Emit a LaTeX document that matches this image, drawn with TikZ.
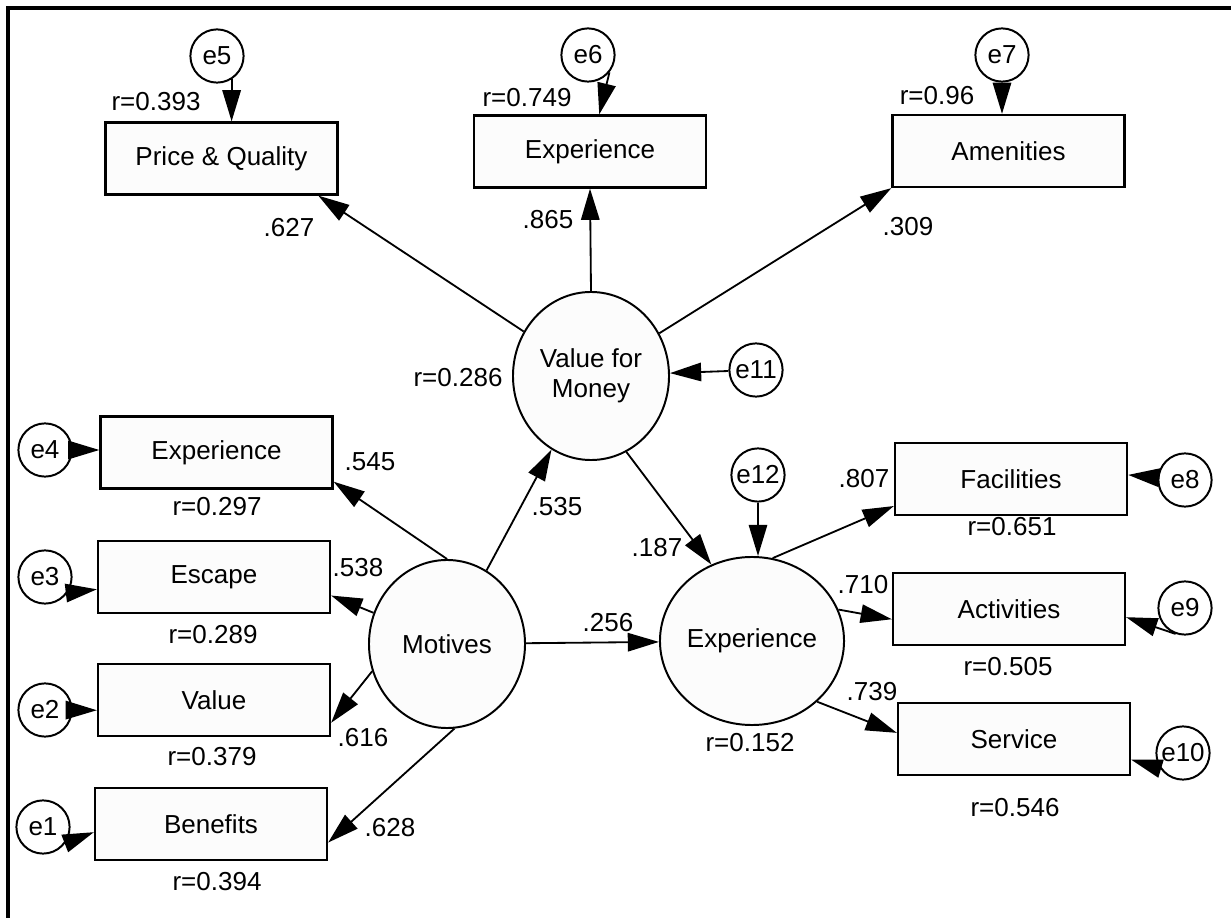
\documentclass[tikz,border=0pt]{standalone}
\usepackage{fontspec}
\setmainfont{Liberation Sans}
\usetikzlibrary{arrows.meta,shapes.geometric}

\begin{document}
\begin{tikzpicture}[x=0.025cm, y=-0.025cm,
    font=\fontsize{18.5}{21.5}\selectfont,
    obsbox/.style={rectangle, draw, line width=1.6pt, fill=black!1, minimum width=5.8cm, minimum height=1.8cm, inner sep=0pt},
    latent/.style={ellipse, draw, line width=1.4pt, fill=black!1, minimum width=3.9cm, minimum height=4.2cm, inner sep=0pt, align=center},
    errc/.style={circle, draw, line width=1.4pt, fill=white, minimum size=1.33cm, inner sep=0pt},
    regline/.style={-{Triangle[length=0.78cm,width=0.46cm]}, line width=1.3pt},
    coef/.style={inner sep=0pt}]
    \useasboundingbox (0,0) rectangle (1231,918);
    \draw[line width=2.2pt] (8,918) -- (8,8) -- (1231,8);

    % latent variables
    \node[latent] (vfm) at (591,376) {Value for\\Money};
    \node[latent] (mot) at (447,644) {Motives};
    \node[latent] (exl) at (752,641) {Experience};

    % indicators of value for money
    \node[obsbox] (pq) at (221.5,158.5) {Price \& Quality};
    \node[obsbox] (expt) at (590,151.5) {Experience};
    \node[obsbox] (amen) at (1008.5,151) {Amenities};
    % indicators of motives
    \node[obsbox] (expl) at (216.5,452.5) {Experience};
    \node[obsbox] (esc) at (214,577) {Escape};
    \node[obsbox] (val) at (214,700) {Value};
    \node[obsbox] (ben) at (211,824) {Benefits};
    % indicators of experience
    \node[obsbox] (fac) at (1011,479) {Facilities};
    \node[obsbox] (act) at (1009,609) {Activities};
    \node[obsbox] (serv) at (1014,739) {Service};

    % error terms
    \node[errc] (e1) at (43,827) {e1};
    \node[errc] (e2) at (45,710) {e2};
    \node[errc] (e3) at (45,577) {e3};
    \node[errc] (e4) at (45,450) {e4};
    \node[errc] (e5) at (217,56) {e5};
    \node[errc] (e6) at (588,55) {e6};
    \node[errc] (e7) at (1002,55) {e7};
    \node[errc] (e8) at (1185,480) {e8};
    \node[errc] (e9) at (1185,608) {e9};
    \node[errc] (e10) at (1183,753) {e10};
    \node[errc] (e11) at (756,370) {e11};
    \node[errc] (e12) at (758,475) {e12};

    % structural and measurement paths
    \draw[regline] (vfm) -- (pq.-21);
    \draw[regline] (vfm.north) -- (expt.south);
    \draw[regline] (vfm) -- (amen.south west);
    \draw[regline] (mot) -- (vfm);
    \draw[regline] (vfm.-65) -- (exl.118);
    \draw[regline] (mot) -- (exl);
    \draw[regline] (mot.north) -- (expl.-14);
    \draw[regline] (mot.157) -- (esc.-9);
    \draw[regline] (mot.200) -- (val.-11);
    \draw[regline] (mot.-85) -- (ben.-9);
    \draw[regline] (exl.76) -- (fac.193);
    \draw[regline] (exl.20) -- (act.185);
    \draw[regline] (exl.-43) -- (serv.177);

    % error paths
    \draw[regline] (e1.-36) -- (ben.184);
    \draw[regline] (e2) -- (val.185);
    \draw[regline] (e3.-35) -- (esc.186);
    \draw[regline] (e4) -- (e4 -| expl.west);
    \draw[regline] (e5.-58) -- (e5.-58 |- pq.north);
    \draw[regline] (e6.-39) -- (expt.76);
    \draw[regline] (e7.south) -- (e7.south |- amen.north);
    \draw[regline] (e8) -- (fac.2);
    \draw[regline] (e9.250) -- (act.-4);
    \draw[regline] (e10.214) -- (serv.-10);
    \draw[regline] (e11) -- (vfm);
    \draw[regline] (e12) -- (e12 |- exl.north);

    % estimates
    \node[coef] (lpq) at (289,228) {.627};
    \node[coef] (lexpt) at (548,220) {.865};
    \node[coef] (lamen) at (908,227) {.309};
    \node[coef] (rpq) at (156,102) {r=0.393};
    \node[coef] (rexpt) at (527,98) {r=0.749};
    \node[coef] (ramen) at (937,96) {r=0.96};
    \node[coef] (rvfm) at (458,378) {r=0.286};
    \node[coef] (lvfm) at (557,507) {.535};
    \node[coef] (lvx) at (657,548) {.187};
    \node[coef] (lexpl) at (370,462) {.545};
    \node[coef] (lesc) at (358,568) {.538};
    \node[coef] (lval) at (363,738) {.616};
    \node[coef] (lben) at (390,828) {.628};
    \node[coef] (rexpl) at (217,507) {r=0.297};
    \node[coef] (resc) at (213,635) {r=0.289};
    \node[coef] (rval) at (212,757) {r=0.379};
    \node[coef] (rben) at (217,882) {r=0.394};
    \node[coef] (lmx) at (608,623) {.256};
    \node[coef] (rexl) at (750,743) {r=0.152};
    \node[coef] (lfac) at (864,479) {.807};
    \node[coef] (lact) at (863,585) {.710};
    \node[coef] (lserv) at (872,692) {.739};
    \node[coef] (rfac) at (1012,527) {r=0.651};
    \node[coef] (ract) at (1008,667) {r=0.505};
    \node[coef] (rserv) at (1015,808) {r=0.546};
\end{tikzpicture}
\end{document}
